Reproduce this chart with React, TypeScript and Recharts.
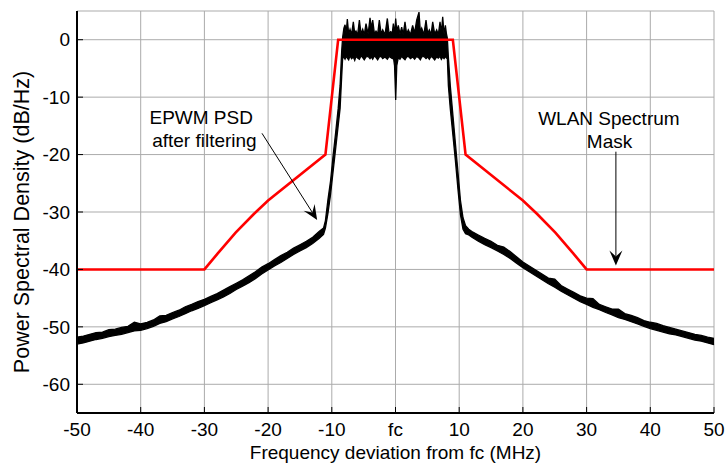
import React from 'react';
import {
  ComposedChart,
  Area,
  Line,
  XAxis,
  YAxis,
  CartesianGrid,
  ReferenceLine,
  ReferenceDot,
  Label,
} from 'recharts';

const psdFreq = [
  -50, -49, -48, -47, -46, -45, -44, -43, -42, -41, -40, -39, -38, -37, -36, -35, -34, -33, -32, -31,
  -30, -29, -28, -27, -26, -25, -24, -23, -22, -21, -20, -19, -18, -17, -16, -15, -14, -13, -12, -11.3,
  -11, -10.6, -10.2, -9.8, -9.4, -9, -8.7, -8.45, -8.3,
  -8.1, -7.92, -7.74, -7.56, -7.35, -7.14, -6.9, -6.62, -6.4, -6.2, -5.95, -5.67, -5.4, -5.15, -4.9,
  -4.63, -4.3, -4, -3.8, -3.58, -3.3, -3.06, -2.8, -2.54, -2.25, -2.01, -1.65, -1.28, -1, -0.76, -0.5,
  -0.34, -0.15, 0.03, 0.2, 0.44, 0.7, 0.97, 1.2, 1.49, 1.75, 2.01, 2.35, 2.69, 3, 3.32, 3.69, 3.9, 4.11,
  4.45, 4.79, 5.05, 5.31, 5.58, 5.84, 6.15, 6.46, 6.72, 6.99, 7.2, 7.41, 7.62, 7.83, 8, 8.14,
  8.3, 8.6, 9, 9.4, 9.8, 10.2, 10.6, 11, 11.5,
  12, 13, 14, 15, 16, 17, 18, 19, 20, 21, 22, 23, 24, 25, 26, 27, 28, 29, 30, 31,
  32, 33, 34, 35, 36, 37, 38, 39, 40, 41, 42, 43, 44, 45, 46, 47, 48, 49, 50,
];
const psdLow = [
  -53.0, -52.8, -52.5, -52.2, -52.0, -51.7, -51.5, -51.3, -51.0, -50.7, -50.6, -50.3, -49.9, -49.4, -49.1, -48.6, -48.2, -47.7, -47.2, -46.8,
  -46.3, -45.8, -45.3, -44.8, -44.2, -43.5, -42.9, -42.3, -41.6, -40.8, -40.1, -39.4, -38.8, -38.1, -37.4, -36.8, -36.2, -35.5, -34.6, -33.9,
  -32.8, -30.2, -27.0, -23.0, -19.0, -15.0, -12.0, -6.5, -3.3,
  -3.0, -3.4, -2.9, -3.2, -3.5, -2.8, -3.3, -3.0, -3.6, -2.9, -3.2, -3.4, -2.8, -3.1, -3.5,
  -3.0, -2.9, -3.3, -3.0, -3.4, -2.8, -3.1, -3.5, -3.0, -2.9, -3.3, -3.0, -3.4, -2.9, -3.1, -3.3,
  -3.0, -4.5, -10.5, -4.5, -3.1, -3.4, -2.9, -3.2, -3.5, -3.0, -2.9, -3.3, -3.0, -3.4, -2.9, -3.2, -3.5, -3.0,
  -2.9, -3.3, -3.0, -3.4, -2.9, -3.1, -3.5, -3.0, -3.2, -2.9, -3.4, -3.0, -3.3, -2.9, -3.2, -3.3,
  -8.0, -12.0, -16.5, -21.0, -26.0, -30.5, -33.0, -33.8, -34.0,
  -34.4, -35.1, -35.7, -36.2, -36.8, -37.4, -38.1, -38.9, -39.7, -40.4, -41.1, -41.8, -42.5, -43.1, -43.8, -44.4, -45.0, -45.6, -46.1, -46.6,
  -47.0, -47.5, -47.9, -48.4, -48.7, -49.1, -49.5, -49.9, -50.3, -50.6, -50.9, -51.2, -51.4, -51.7, -52.0, -52.3, -52.5, -52.8, -53.1,
];
const psdHigh = [
  -51.8, -51.6, -51.3, -51.0, -50.9, -50.5, -50.4, -50.1, -49.9, -49.2, -49.5, -49.2, -48.8, -48.1, -48.0, -47.5, -47.1, -46.5, -46.1, -45.6,
  -45.2, -44.7, -44.2, -43.6, -43.0, -42.4, -41.8, -41.1, -40.4, -39.6, -39.0, -38.3, -37.6, -37.0, -36.3, -35.7, -35.1, -34.4, -33.4, -32.8,
  -31.5, -27.8, -24.6, -20.2, -16.2, -12.0, -8.0, -2.0, 0.4,
  2.0, 2.6, 1.2, 3.6, 1.0, 1.8, 0.9, 3.1, 1.1, 1.5, 0.8, 3.4, 1.0, 1.8, 0.9,
  2.8, 1.0, 3.8, 2.0, 3.4, 1.0, 1.5, 1.0, 3.4, 1.0, 1.7, 0.9, 3.7, 1.0, 1.4, 1.2,
  2.8, 1.0, 3.7, 1.5, 2.5, 1.0, 2.2, 0.9, 3.1, 1.0, 1.7, 0.9, 2.5, 1.2, 3.4, 4.8, 1.4, 2.0,
  0.9, 3.4, 1.1, 1.7, 0.9, 3.1, 1.0, 1.7, 0.9, 3.1, 1.2, 4.0, 1.0, 2.5, 1.0, 0.3,
  -3.0, -8.0, -13.0, -18.0, -23.0, -28.0, -31.0, -32.4, -33.0,
  -33.4, -34.0, -34.6, -35.1, -35.8, -36.1, -36.9, -37.8, -38.7, -39.4, -40.1, -40.8, -41.5, -41.7, -42.8, -43.4, -44.0, -44.6, -45.0, -45.1,
  -46.1, -46.5, -46.9, -46.9, -47.7, -48.0, -48.4, -48.9, -49.2, -49.4, -49.8, -50.1, -50.4, -50.7, -51.0, -51.3, -51.5, -51.8, -52.0,
];

// WLAN spectrum mask (dBr), as drawn
const maskFreq = [-50, -30, -27.9, -25.1, -22.2, -20, -11, -9, 9, 11, 20, 22.2, 25.1, 27.9, 30, 50];
const maskLevel = [-40, -40, -37.2, -33.6, -30.3, -28, -20, 0, 0, -20, -28, -30.3, -33.6, -37.2, -40, -40];

const xTicks = [-50, -40, -30, -20, -10, 0, 10, 20, 30, 40, 50];
const yTicks = [-60, -50, -40, -30, -20, -10, 0];

// annotation anchors, in data units
const notes = [
  { x: -30.5, y: -13.5, text: 'EPWM PSD' },
  { x: -30.0, y: -17.6, text: 'after filtering' },
  { x: 33.5, y: -13.7, text: 'WLAN Spectrum' },
  { x: 33.6, y: -17.7, text: 'Mask' },
];
const arrows = [
  { from: { x: -20.96, y: -16.3 }, to: { x: -12.3, y: -31.4 } },
  { from: { x: 34.6, y: -19.5 }, to: { x: 34.6, y: -39.3 } },
];

const psdData = psdFreq.map((f, i) => ({ f, psd: [psdLow[i], psdHigh[i]] }));
const maskData = maskFreq.map((f, i) => ({ f, mask: maskLevel[i] }));

const FONT = '"Liberation Sans", Arial, sans-serif';

const BottomTick = (props: any) => {
  const { x, y, payload } = props;
  const v = payload.value;
  return (
    <g>
      <line x1={x} x2={x} y1={y} y2={y - 6} stroke="#000" />
      <text x={x} y={y + 23} textAnchor="middle" fontSize={19} fontFamily={FONT} fill="#000">
        {v === 0 ? 'fc' : v}
      </text>
    </g>
  );
};
const TopTick = (props: any) => (
  <line x1={props.x} x2={props.x} y1={props.y} y2={props.y + 6} stroke="#000" />
);
const LeftTick = (props: any) => {
  const { x, y, payload } = props;
  return (
    <g>
      <line x1={x} x2={x + 6} y1={y} y2={y} stroke="#000" />
      <text x={x - 7} y={y} dy="0.35em" textAnchor="end" fontSize={19} fontFamily={FONT} fill="#000">
        {payload.value}
      </text>
    </g>
  );
};
const RightTick = (props: any) => (
  <line x1={props.x} x2={props.x - 6} y1={props.y} y2={props.y} stroke="#000" />
);

const arrowShape = (p: any) => {
  const { x1, y1, x2, y2 } = p;
  const dx = x2 - x1;
  const dy = y2 - y1;
  const len = Math.sqrt(dx * dx + dy * dy) || 1;
  const ux = dx / len;
  const uy = dy / len;
  const bx = x2 - ux * 15;
  const by = y2 - uy * 15;
  const nx = x2 - ux * 9;
  const ny = y2 - uy * 9;
  const pts = `${x2},${y2} ${bx - uy * 6.5},${by + ux * 6.5} ${nx},${ny} ${bx + uy * 6.5},${by - ux * 6.5}`;
  return (
    <g>
      <line x1={x1} y1={y1} x2={nx} y2={ny} stroke="#000" strokeWidth={1} />
      <polygon points={pts} fill="#000" />
    </g>
  );
};

export default function App() {
  return (
    <div style={{ position: 'absolute', left: 0, top: 0, background: '#fff' }}>
      <ComposedChart
        width={725}
        height={465}
        data={psdData}
        margin={{ top: 11, right: 11, bottom: 0, left: 0 }}
      >
        <CartesianGrid stroke="#ababab" strokeWidth={1} />
        <XAxis
          dataKey="f"
          type="number"
          domain={[-50, 50]}
          ticks={xTicks}
          interval={0}
          height={52}
          tickSize={0}
          tickMargin={0}
          tickLine={false}
          axisLine={{ stroke: '#000', strokeWidth: 2 }}
          tick={BottomTick}
        >
          <Label
            content={(p: any) => (
              <text
                x={p.viewBox.x + p.viewBox.width / 2}
                y={p.viewBox.y + 46}
                textAnchor="middle"
                fontSize={19}
                fontFamily={FONT}
                fill="#000"
              >
                Frequency deviation from fc (MHz)
              </text>
            )}
          />
        </XAxis>
        <XAxis
          xAxisId="top"
          orientation="top"
          type="number"
          dataKey="f"
          domain={[-50, 50]}
          ticks={xTicks}
          interval={0}
          height={0}
          tickSize={0}
          tickMargin={0}
          tickLine={false}
          axisLine={{ stroke: '#000', strokeWidth: 2 }}
          tick={TopTick}
        />
        <YAxis
          type="number"
          domain={[-65, 5]}
          ticks={yTicks}
          interval={0}
          width={77}
          tickSize={0}
          tickMargin={0}
          tickLine={false}
          axisLine={{ stroke: '#000', strokeWidth: 2 }}
          tick={LeftTick}
        >
          <Label
            content={(p: any) => {
              const cx = p.viewBox.x + 22;
              const cy = p.viewBox.y + p.viewBox.height / 2 + 10;
              return (
                <text
                  x={cx}
                  y={cy}
                  transform={`rotate(-90 ${cx} ${cy})`}
                  textAnchor="middle"
                  dominantBaseline="central"
                  fontSize={21.5}
                  fontFamily={FONT}
                  fill="#000"
                >
                  Power Spectral Density (dB/Hz)
                </text>
              );
            }}
          />
        </YAxis>
        <YAxis
          yAxisId="r"
          orientation="right"
          type="number"
          domain={[-65, 5]}
          ticks={yTicks}
          interval={0}
          width={0}
          tickSize={0}
          tickMargin={0}
          tickLine={false}
          axisLine={{ stroke: '#000', strokeWidth: 2 }}
          tick={RightTick}
        />
        <Area
          type="linear"
          dataKey="psd"
          stroke="#000"
          strokeWidth={1.3}
          fill="#000"
          fillOpacity={1}
          dot={false}
          activeDot={false}
          isAnimationActive={false}
        />
        <Line
          data={maskData}
          type="linear"
          dataKey="mask"
          stroke="#ff0000"
          strokeWidth={2.6}
          dot={false}
          activeDot={false}
          isAnimationActive={false}
        />
        {arrows.map((a, i) => (
          <ReferenceLine
            key={`a${i}`}
            segment={[a.from, a.to]}
            shape={arrowShape}
            ifOverflow="visible"
          />
        ))}
        {notes.map((n, i) => (
          <ReferenceDot
            key={`n${i}`}
            x={n.x}
            y={n.y}
            ifOverflow="visible"
            shape={(p: any) => (
              <text
                x={p.cx}
                y={p.cy}
                dy="0.35em"
                textAnchor="middle"
                fontSize={19}
                fontFamily={FONT}
                fill="#000"
              >
                {n.text}
              </text>
            )}
          />
        ))}
      </ComposedChart>
    </div>
  );
}
